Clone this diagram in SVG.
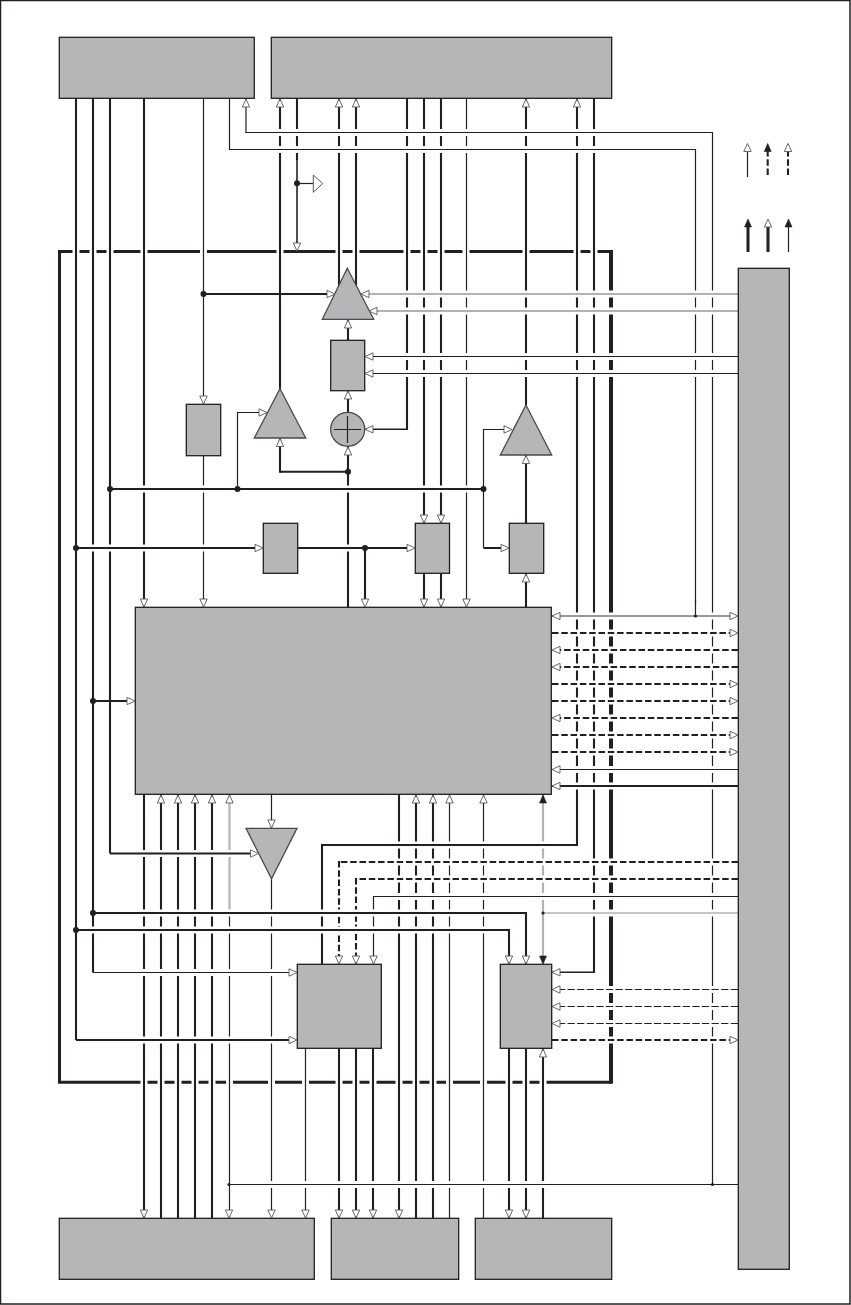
<svg xmlns="http://www.w3.org/2000/svg" xmlns:xlink="http://www.w3.org/1999/xlink" width="851" height="1305" viewBox="0 0 851 1305">
<style>
.n{fill:#b5b6b8;stroke:#231f20;stroke-width:1.3}
.t{fill:#b5b6b8;stroke:#4a4a4c;stroke-width:1.3}
path{fill:none}
.l1{stroke:#231f20;stroke-width:1.2}
.l2{stroke:#231f20;stroke-width:2.1}
.l15{stroke:#231f20;stroke-width:1.6}
.l3{stroke:#231f20;stroke-width:3}
.gr{stroke:#b1b3b6;stroke-width:2.2}
.grt{stroke:#b1b3b6;stroke-width:1.5}
.mid{stroke:#77787b;stroke-width:1.6}
.d2{stroke:#231f20;stroke-width:2.1;stroke-dasharray:6.5 2.8}
.d1{stroke:#231f20;stroke-width:1.2;stroke-dasharray:7.3 2.3}
.h{stroke:#fff;stroke-width:7}
.fr{stroke:#231f20;stroke-width:3}
.dot{fill:#231f20}
.ao{fill:#fff;stroke:#58595b;stroke-width:.9}
.af{fill:#231f20;stroke:#231f20;stroke-width:.6}
</style>
<defs>
<path id="au" class="ao" d="M0 0L3.7 8H-3.7Z"/>
<path id="ad" class="ao" d="M0 0L3.7 -8H-3.7Z"/>
<path id="al" class="ao" d="M0 0L8 -3.7V3.7Z"/>
<path id="ar" class="ao" d="M0 0L-8 -3.7V3.7Z"/>
<path id="fu" class="af" d="M0 0L3.5 8H-3.5Z"/>
<path id="fd" class="af" d="M0 0L3.5 -8H-3.5Z"/>
</defs>
<rect x="0.5" y="0.5" width="849.5" height="1303.5" fill="none" stroke="#231f20" stroke-width="1.5"/>

<g id="frame">
<path class="fr" d="M611 251.4H59.5V1082.3H611"/>
<path stroke="#231f20" stroke-width="4" d="M611 249.9V1083.8"/>
<path class="h" d="M76 248V255M93 248V255M110 248V255M144 248V255M203.5 248V255M280 248V255M339 248V255M356 248V255M407 248V255M424 248V255M441 248V255M466 248V255M526 248V255M577 248V255M594 248V255"/>
<path class="h" d="M144 1079V1086M161 1079V1086M178 1079V1086M195 1079V1086M212 1079V1086M229.5 1079V1086M271.5 1079V1086M305.5 1079V1086M339 1079V1086M356 1079V1086M373 1079V1086M399 1079V1086M416 1079V1086M433 1079V1086M449.5 1079V1086M483.5 1079V1086M509 1079V1086M526 1079V1086M543 1079V1086"/>
</g>

<g id="connectors">
<path class="l2" d="M76 98V1040M93 98V972.5M110 98V853.5M144 98V607M144 794V1218M280 98V389M297 98V160M339 98V300M356 98V300M407 98V429.3M424 98V523M441 98V523M424 573V607M441 573V607M526 98V405M526 455V523M526 573V607M577 98V846M594 98V973M348 446V607M348 412V390M348 340V319M161 794V1218M178 794V1218M195 794V1218M212 794V1218M322 844V964M339 1048V1218M356 1048V1218M373 1048V1218M399 794V1218M416 794V1218M433 794V1218M509 1048V1218M526 1048V1218M543 1048V1218M509 929V964M526 912V964"/>
<path class="l15" d="M297 160V244"/>
<path class="d2" d="M339 861V964M356 878V964"/>
<path class="l1" d="M203.5 98V404M203.5 455V607M229.5 98V150M246 98V133M466.5 98V607M695.5 149V605M712.5 132V1184M271.5 794V828M271.5 878V1218M305.5 1048V1218M449.5 794V1218M483.5 794V1218M373.5 896V964M229.5 913V1218"/>
<path class="gr" d="M229.5 795V911M543 794V964"/>

<path class="h" d="M250 132.5H708M233 149.5H692M368 294H738M372 311H738M368 356.5H738M368 373.5H738M114 489H479M80 548H263M298 548H361M552 616H690M700 616H738M552 633H738M552 650H738M552 667H738M552 684H738M552 701H738M552 718H738M552 735H738M552 752H738M552 769.5H738M552 786H738M326 845H573M343 862H738M360 879H738M377 896.5H738M97 913H522M80 930H505M547 913H738M114 853.5H250M97 972.5H297M80 1040H297M552 989.5H738M552 1006.5H738M552 1023.5H738M552 1040H738M233 1184.5H708"/>

<path class="l1" d="M245.5 132.5H713M229 149.5H696M365 356.5H738M365 373.5H738M373 896.5H738M93 972.5H297M229.5 1184.5H738M552 769.5H738"/>
<path class="l2" d="M93 701H130M203.5 294H330M110 489H483.5M76 548H258M298 548H410M280 471.7H348M322 845H578M76 930H510M93 913H527M110 853.5H252M76 1040H292M552 786H738"/>
<path class="l15" d="M365 429.3H408M551 972.3H595"/>
<path class="gr" d="M365 294H738M372 311H738"/>
<path class="grt" d="M543 913H738"/>
<path class="mid" d="M552 616H738"/>
<path class="d2" d="M552 633H738M738 650H552M738 667H552M552 684H738M552 701H738M738 718H552M552 735H738M552 752H738M738 862H338M738 879H355M552 1040H738"/>
<path class="d1" d="M738 989.5H552M738 1006.5H552M738 1023.5H552"/>

<path class="l2" d="M280 438V472.7M365 548V600M483.5 548H506"/>
<path class="l1" d="M695.5 600V616M237.5 412.5V489M237 412.5H262M483.5 429.5V548M483 429.5H507"/>
<path stroke="#231f20" stroke-width="1.2" d="M297 183.5H314"/>

<path class="l1" d="M747.5 150V177M788.5 226V252"/>
<path class="d2" d="M767.7 150V177M788 150V177"/>
<path class="l3" d="M748 226V252M768 226V252"/>
</g>

<g id="box-top-left"><rect class="n" x="59.3" y="37.3" width="195" height="61"/></g>
<g id="box-top-right"><rect class="n" x="271.3" y="37.3" width="340.4" height="61"/></g>
<g id="box-right"><rect class="n" x="738.3" y="268.3" width="51" height="1001"/></g>
<g id="box-bottom-1"><rect class="n" x="59.3" y="1218.3" width="255" height="61"/></g>
<g id="box-bottom-2"><rect class="n" x="331.3" y="1218.3" width="127.4" height="61"/></g>
<g id="box-bottom-3"><rect class="n" x="475.3" y="1218.3" width="136.4" height="61"/></g>
<g id="block-main"><rect class="n" x="135.3" y="607.3" width="416" height="187"/></g>
<g id="rect-a"><rect class="n" x="186.3" y="404.3" width="34.4" height="51.4"/></g>
<g id="rect-b"><rect class="n" x="330.7" y="340.3" width="34" height="50.4"/></g>
<g id="rect-c"><rect class="n" x="263.3" y="523.3" width="34.4" height="50"/></g>
<g id="rect-d"><rect class="n" x="415.3" y="523.3" width="34.2" height="50"/></g>
<g id="rect-e"><rect class="n" x="509.3" y="523.3" width="34.4" height="50"/></g>
<g id="rect-f"><rect class="n" x="297.3" y="964.3" width="84" height="84"/></g>
<g id="rect-g"><rect class="n" x="500.3" y="964.3" width="51.4" height="84"/></g>
<g id="tri-1"><path class="t" style="fill:#b5b6b8" d="M347.3 268.3L373.7 319.3H322.3Z"/></g>
<g id="tri-2"><path class="t" style="fill:#b5b6b8" d="M280 388.7L305.7 438H254.3Z"/></g>
<g id="tri-3"><path class="t" style="fill:#b5b6b8" d="M526 405L551.7 455H500.3Z"/></g>
<g id="tri-4"><path class="t" style="fill:#b5b6b8" d="M271.5 878.7L246 828.3H297Z"/></g>
<g id="adder"><circle class="t" cx="347.7" cy="429.3" r="17"/><path stroke="#231f20" stroke-width="1.2" d="M334 429.5H361M347.5 416V443"/></g>
<g id="buffer"><path style="fill:#fff" stroke="#58595b" stroke-width="1" d="M322.7 183.5L313.3 175V192.3Z"/></g>

<g id="arrowheads">
<use href="#au" x="246" y="99"/><use href="#au" x="280" y="99"/><use href="#au" x="339" y="99"/><use href="#au" x="356" y="99"/><use href="#au" x="526" y="99"/><use href="#au" x="577" y="99"/>
<use href="#ad" x="297" y="251"/>
<use href="#ar" x="335" y="294"/><use href="#al" x="361" y="294"/><use href="#al" x="369" y="311"/><use href="#au" x="348" y="320"/>
<use href="#al" x="365" y="356.5"/><use href="#al" x="365" y="373.5"/><use href="#au" x="348" y="391"/><use href="#au" x="348" y="447"/><use href="#al" x="365" y="429.3"/>
<use href="#ad" x="203.5" y="404"/><use href="#ar" x="267" y="412.5"/><use href="#au" x="280" y="438.5"/><use href="#ar" x="512" y="429.5"/><use href="#au" x="526" y="455.5"/>
<use href="#ar" x="263" y="548"/><use href="#ar" x="415" y="548"/><use href="#ad" x="424" y="523"/><use href="#ad" x="441" y="523"/><use href="#ar" x="509" y="548"/><use href="#au" x="526" y="574"/>
<use href="#ad" x="144" y="607"/><use href="#ad" x="203.5" y="607"/><use href="#ad" x="365" y="607"/><use href="#ad" x="424" y="607"/><use href="#ad" x="441" y="607"/><use href="#ad" x="466.5" y="607"/>
<use href="#ar" x="135" y="701"/>
<use href="#al" x="552" y="616"/><use href="#ar" x="738" y="616"/><use href="#ar" x="738" y="633"/><use href="#al" x="552" y="650"/><use href="#al" x="552" y="667"/><use href="#ar" x="738" y="684"/><use href="#ar" x="738" y="701"/><use href="#al" x="552" y="718"/><use href="#ar" x="738" y="735"/><use href="#ar" x="738" y="752"/><use href="#al" x="552" y="769.5"/><use href="#al" x="552" y="786"/>
<use href="#au" x="161" y="795"/><use href="#au" x="178" y="795"/><use href="#au" x="195" y="795"/><use href="#au" x="212" y="795"/><use href="#au" x="229.5" y="795"/><use href="#au" x="416" y="795"/><use href="#au" x="433" y="795"/><use href="#au" x="449.5" y="795"/><use href="#au" x="483.5" y="795"/><use href="#fu" x="543" y="795"/>
<use href="#ad" x="271.5" y="828"/><use href="#ar" x="258.5" y="853.5"/>
<use href="#ar" x="297" y="972.5"/><use href="#ar" x="297" y="1040"/><use href="#ad" x="339" y="964"/><use href="#ad" x="356" y="964"/><use href="#ad" x="373.5" y="964"/>
<use href="#ad" x="509" y="964"/><use href="#ad" x="526" y="964"/><use href="#fd" x="543" y="964"/>
<use href="#al" x="552" y="972.3"/><use href="#al" x="552" y="989.5"/><use href="#al" x="552" y="1006.5"/><use href="#al" x="552" y="1023.5"/><use href="#ar" x="738" y="1040"/><use href="#au" x="543" y="1049"/>
<use href="#ad" x="144" y="1218"/><use href="#ad" x="229" y="1218"/><use href="#ad" x="271.5" y="1218"/><use href="#ad" x="305.5" y="1218"/><use href="#ad" x="339" y="1218"/><use href="#ad" x="356" y="1218"/><use href="#ad" x="373" y="1218"/><use href="#ad" x="399" y="1218"/><use href="#ad" x="509" y="1218"/><use href="#ad" x="526" y="1218"/>
<use href="#au" x="747.5" y="143.5"/><use href="#fu" x="767.7" y="143.5"/><use href="#au" x="788" y="143.5"/>
<use href="#fu" x="748" y="219"/><use href="#au" x="768" y="219"/><use href="#fu" x="788.5" y="219"/>
</g>

<g id="junctions">
<circle class="dot" cx="297" cy="183.3" r="3"/><circle class="dot" cx="203.5" cy="294" r="3"/><circle class="dot" cx="348" cy="471.7" r="3"/><circle class="dot" cx="110" cy="489" r="3"/><circle class="dot" cx="237.5" cy="489" r="3"/><circle class="dot" cx="483.5" cy="489" r="3"/><circle class="dot" cx="76" cy="548" r="3"/><circle class="dot" cx="365" cy="548" r="3"/><circle class="dot" cx="93" cy="701" r="3"/><circle class="dot" cx="93" cy="913" r="3"/><circle class="dot" cx="76" cy="930" r="3"/>
<circle class="dot" cx="695.5" cy="616" r="1.6"/><circle class="dot" cx="543" cy="913" r="1.6"/><circle class="dot" cx="229" cy="1184.5" r="1.6"/><circle class="dot" cx="712.5" cy="1184.5" r="1.6"/>
</g>
</svg>
